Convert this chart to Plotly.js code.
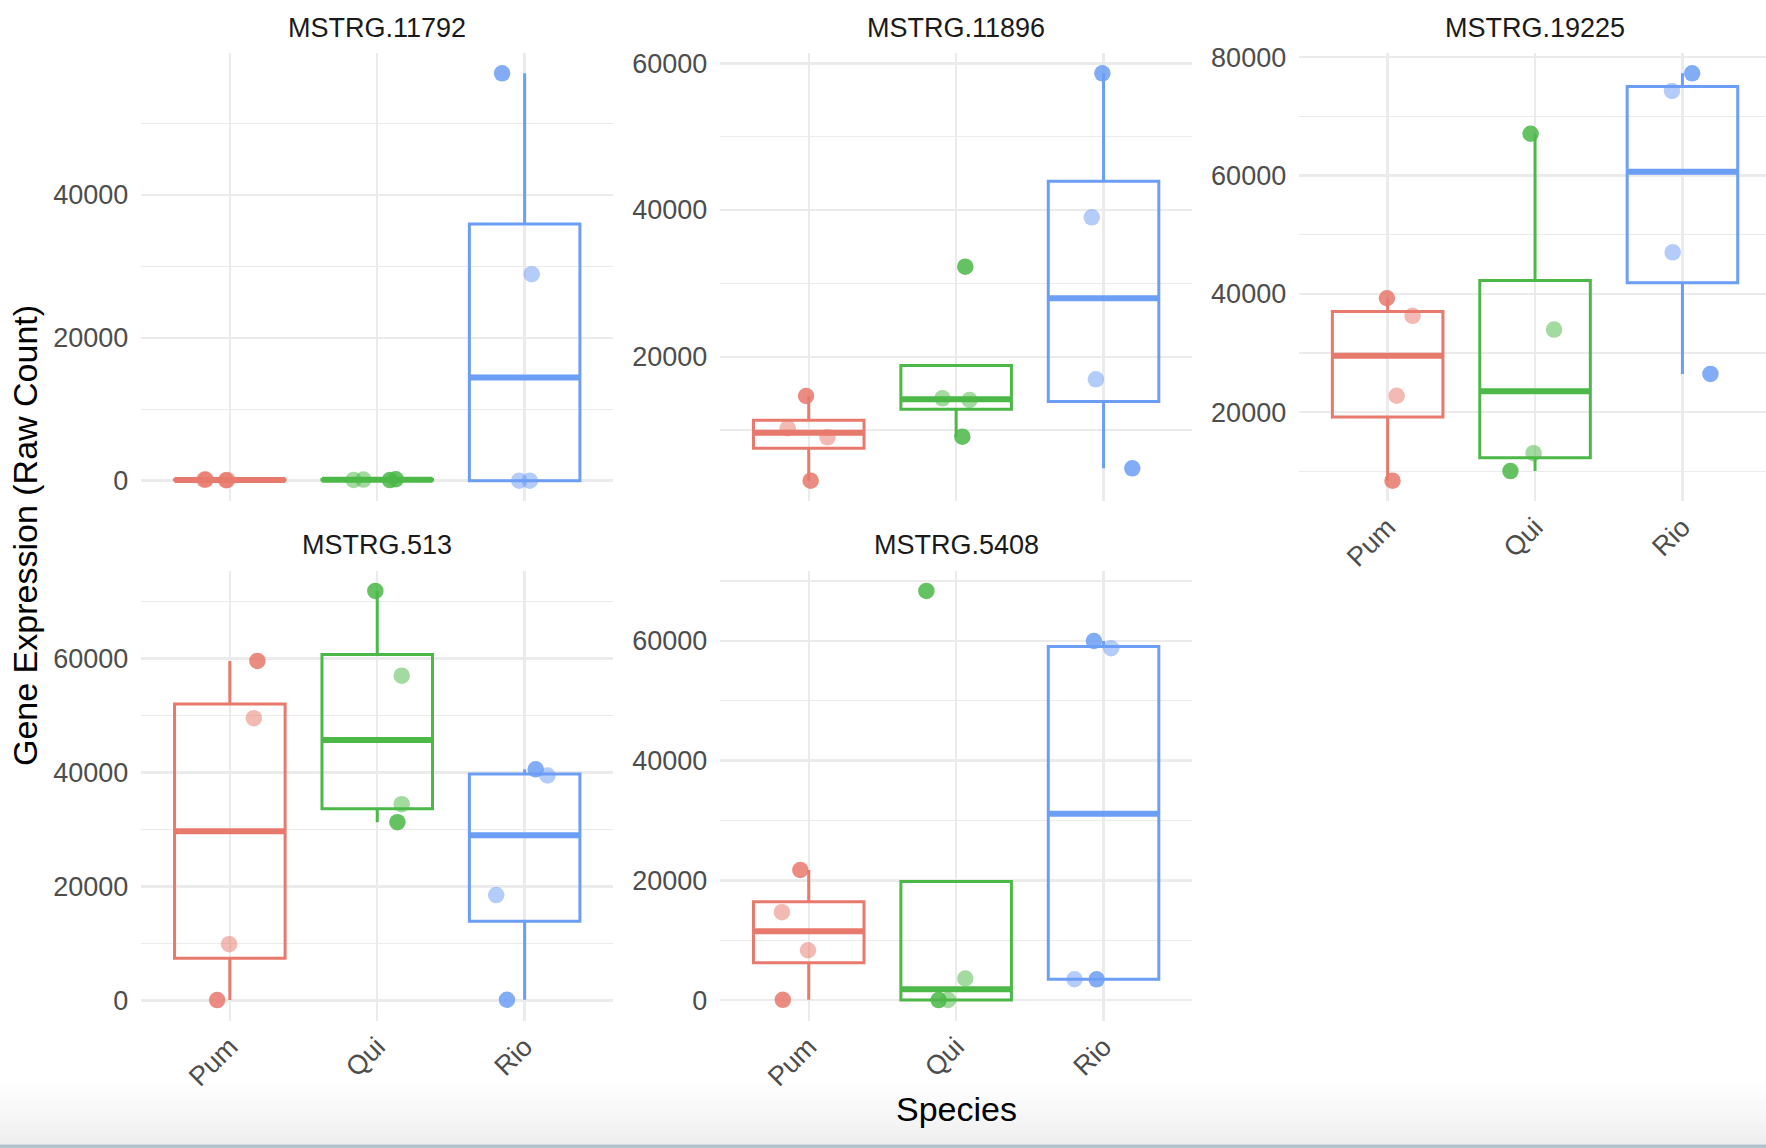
<!DOCTYPE html>
<html><head><meta charset="utf-8">
<script src="https://cdn.plot.ly/plotly-3.0.1.min.js"></script>
<style>
html,body{margin:0;padding:0;width:1766px;height:1148px;overflow:hidden;}
body{background:linear-gradient(180deg,#ffffff 0px,#ffffff 1078px,#f8f8f8 1110px,#eeeeee 1144px,#b2c4ce 1145px,#b2c4ce 1148px);}
#chart{width:1766px;height:1148px;}
</style></head><body><div id="chart"></div>
<script>
// ---------------- data ----------------
const species = ['Pum', 'Qui', 'Rio'];
const genes = ['MSTRG.11792', 'MSTRG.11896', 'MSTRG.19225', 'MSTRG.513', 'MSTRG.5408'];

// raw counts per species (Pum, Qui, Rio), 4 samples each
const expr_11792 = [[120, 60, 150, 90], [100, 150, 80, 200], [57000, 28900, 0, 0]];
const expr_11896 = [[14640, 10230, 9000, 3090], [32270, 14320, 14090, 9090], [58640, 39000, 16910, 4770]];
const expr_19225 = [[39250, 36280, 22760, 8410], [67060, 33950, 13060, 10020], [77270, 74300, 47010, 26450]];
const expr_513 = [[59560, 49520, 9900, 100], [71830, 56980, 34450, 31290], [40550, 39470, 18510, 150]];
const expr_5408 = [[21730, 14690, 8340, 50], [68330, 3620, 20, 40], [59980, 58770, 3490, 3480]];

// horizontal jitter of each sample (category units)
const jitter_11792 = [[-0.175, -0.025, -0.165, -0.015], [-0.16, -0.094, 0.086, 0.126], [-0.153, 0.048, -0.037, 0.035]];
const jitter_11896 = [[-0.018, -0.143, 0.127, 0.013], [0.062, -0.093, 0.091, 0.042], [-0.008, -0.08, -0.052, 0.195]];
const jitter_19225 = [[-0.005, 0.169, 0.061, 0.033], [-0.03, 0.129, -0.01, -0.167], [0.066, -0.071, -0.066, 0.19]];
const jitter_513 = [[0.187, 0.163, -0.005, -0.086], [-0.013, 0.166, 0.166, 0.137], [0.075, 0.155, -0.193, -0.12]];
const jitter_5408 = [[-0.057, -0.182, -0.005, -0.176], [-0.202, 0.062, -0.119, -0.055], [-0.065, 0.052, -0.197, -0.047]];

// ---------------- styling ----------------
const exprs = [expr_11792, expr_11896, expr_19225, expr_513, expr_5408];
const jitters = [jitter_11792, jitter_11896, jitter_19225, jitter_513, jitter_5408];
const colors = ['#E8796D', '#4CB848', '#6D9EF5'];
const W = 1766, H = 1148;
const STEP = 147.4;                       // px per category
const colLeft = [141.4, 720.3, 1299.2];   // px
const colDom = colLeft.map(l => [l / W, Math.min(1, (l + 3.2 * STEP) / W)]);
const colRangeRight = colLeft.map(l => Math.min(3.6, 0.4 + (W - l) / STEP));
const rowDom = [[1 - 501 / H, 1 - 53 / H], [1 - 1020.5 / H, 1 - 570.5 / H]];
const panelPos = [[0, 0], [0, 1], [0, 2], [1, 0], [1, 1]];
const FONT = 'Liberation Sans, Arial, Helvetica, sans-serif';

function q7(s, p) {
  const h = (s.length - 1) * p, lo = Math.floor(h), hi = Math.ceil(h);
  return s[lo] + (h - lo) * (s[hi] - s[lo]);
}

const traces = [];
const layout = {
  width: W, height: H, autosize: false,
  margin: {l: 0, r: 0, t: 0, b: 0, pad: 0},
  paper_bgcolor: 'rgba(0,0,0,0)', plot_bgcolor: 'rgba(0,0,0,0)',
  showlegend: false, hovermode: false,
  font: {family: FONT},
  annotations: [], boxmode: 'overlay'
};

exprs.forEach((expr, pi) => {
  const [row, col] = panelPos[pi];
  const sfx = pi === 0 ? '' : String(pi + 1);
  const xa = 'x' + sfx, ya = 'y' + sfx;
  let all = [];
  expr.forEach((vals, si) => {
    const s = vals.slice().sort((a, b) => a - b);
    all = all.concat(vals);
    const q1 = q7(s, 0.25), med = q7(s, 0.5), q3 = q7(s, 0.75), iqr = q3 - q1;
    const inside = s.filter(v => v >= q1 - 1.5 * iqr && v <= q3 + 1.5 * iqr);
    const lo = Math.min(Math.min(...inside), q1), hi = Math.max(Math.max(...inside), q3);
    const pos = si + 1;
    traces.push({
      type: 'box', xaxis: xa, yaxis: ya, x: [pos],
      q1: [q1], median: [med], q3: [q3], lowerfence: [lo], upperfence: [hi],
      width: 0.75, whiskerwidth: 0, boxpoints: false,
      line: {color: colors[si], width: 3},
      fillcolor: 'rgba(255,255,255,0)', hoverinfo: 'skip'
    });
    // jittered points (lighter where covered by the box)
    traces.push({
      type: 'scatter', mode: 'markers', xaxis: xa, yaxis: ya,
      x: vals.map((v, k) => pos + jitters[pi][si][k]), y: vals,
      marker: {size: 16.5, color: colors[si], line: {width: 0},
        opacity: vals.map(v => (v >= q1 && v <= q3 && q3 > q1) ? 0.52 : 0.86)},
      hoverinfo: 'skip', cliponaxis: false
    });
    // thick median line
    traces.push({
      type: 'scatter', mode: 'lines', xaxis: xa, yaxis: ya,
      x: [pos - 0.375, pos + 0.375], y: [med, med],
      line: {color: colors[si], width: 6}, hoverinfo: 'skip'
    });
  });
  const mn = Math.min(...all), mx = Math.max(...all), span = mx - mn;
  const showX = (pi >= 2);
  layout['xaxis' + sfx] = {
    domain: colDom[col], range: [0.4, colRangeRight[col]], anchor: ya,
    tickvals: [1, 2, 3], ticktext: species,
    showgrid: true, gridcolor: '#EBEBEB', gridwidth: 2.3,
    zeroline: false, showline: false, ticks: '',
    showticklabels: showX, tickangle: -45, ticklabelstandoff: 4,
    tickfont: {family: FONT, size: 27, color: '#4D4D4D'}, fixedrange: true
  };
  layout['yaxis' + sfx] = {
    domain: rowDom[row], range: [mn - 0.05 * span, mx + 0.05 * span], anchor: xa,
    tick0: 0, dtick: 20000, tickformat: 'd',
    showgrid: true, gridcolor: '#EBEBEB', gridwidth: 2.3,
    minor: {tick0: 0, dtick: 10000, showgrid: true, gridcolor: '#EBEBEB', gridwidth: 1.15, ticks: ''},
    zeroline: false, showline: false, ticks: '', ticklabelstandoff: 12,
    tickfont: {family: FONT, size: 27, color: '#4D4D4D'}, fixedrange: true
  };
  layout.annotations.push({
    text: genes[pi], xref: 'paper', yref: 'paper',
    x: (colLeft[col] + 1.6 * STEP) / W,
    y: row === 0 ? 1 - 27.8 / H : 1 - 544.8 / H,
    xanchor: 'center', yanchor: 'middle', showarrow: false,
    font: {family: FONT, size: 27, color: '#1A1A1A'}
  });
});

layout.annotations.push({
  text: 'Gene Expression (Raw Count)', xref: 'paper', yref: 'paper',
  x: 25 / W, y: 1 - 536 / H, xanchor: 'center', yanchor: 'middle', textangle: -90,
  showarrow: false, font: {family: FONT, size: 34, color: '#000000'}
});
layout.annotations.push({
  text: 'Species', xref: 'paper', yref: 'paper',
  x: 956 / W, y: 1 - 1109 / H, xanchor: 'center', yanchor: 'middle',
  showarrow: false, font: {family: FONT, size: 34, color: '#000000'}
});

Plotly.newPlot('chart', traces, layout, {staticPlot: true, displayModeBar: false});
</script></body></html>
